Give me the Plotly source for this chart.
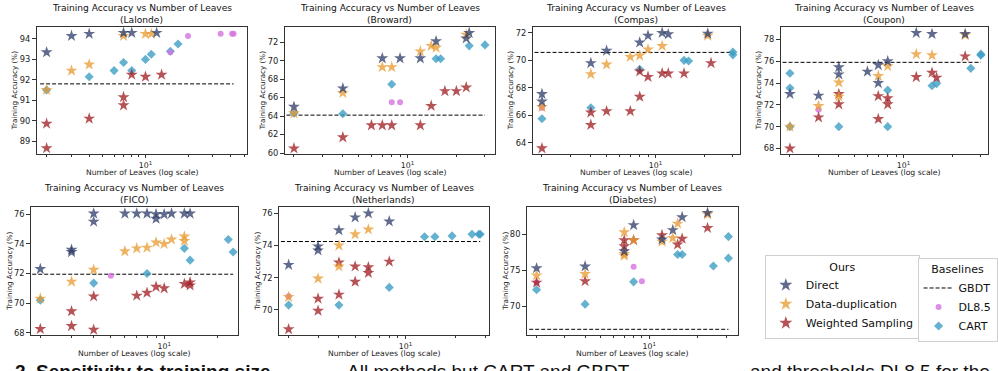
import plotly.graph_objects as go

# ---------------- data (leaves, training accuracy %) ----------------
DATASETS = ["Lalonde", "Broward", "Compas", "Coupon", "FICO", "Netherlands", "Diabetes"]
Y_TICKS = [[89, 90, 91, 92, 93, 94], [60, 62, 64, 66, 68, 70, 72], [64, 66, 68, 70, 72],
           [68, 70, 72, 74, 76, 78], [68, 70, 72, 74, 76], [70, 72, 74, 76], [70, 75, 80]]
X_TICK_VALS = [10]
X_TICK_TEXT = ["10<sup>1</sup>"]
X_MINOR_VALS = [2, 3, 4, 5, 6, 7, 8, 9, 20, 30, 40, 50]
CAPTION_PARTS = ["<b>2. Sensitivity to training size.</b>", "All methods but CART and GBDT",
                 "and thresholds DL8.5 for the"]

lalonde_direct_leaves = [2, 3, 4, 7, 8, 12]
lalonde_direct_acc = [93.35, 94.15, 94.25, 94.3, 94.3, 94.3]
lalonde_dup_leaves = [2, 3, 4, 7, 10, 11]
lalonde_dup_acc = [91.5, 92.45, 92.75, 94.15, 94.25, 94.25]
lalonde_ws_leaves = [2, 2, 4, 7, 7, 8, 10, 13]
lalonde_ws_acc = [89.85, 88.65, 90.1, 91.15, 90.75, 92.25, 92.15, 92.25]
lalonde_cart_leaves = [2, 4, 6, 7, 8, 10, 11, 15, 17]
lalonde_cart_acc = [91.5, 92.15, 92.45, 92.85, 92.45, 93.0, 93.25, 93.4, 93.75]
lalonde_dl85_leaves = [15, 20, 34, 41, 42]
lalonde_dl85_acc = [93.35, 94.15, 94.25, 94.25, 94.25]
lalonde_gbdt = 91.8

broward_direct_leaves = [2, 4, 7, 9, 12, 15, 23, 24]
broward_direct_acc = [65.0, 67.0, 70.25, 70.25, 70.25, 72.1, 72.4, 73.0]
broward_dup_leaves = [2, 4, 7, 8, 12, 14, 15, 23]
broward_dup_acc = [64.3, 66.5, 69.3, 69.3, 71.0, 71.6, 71.4, 72.8]
broward_ws_leaves = [2, 4, 6, 7, 8, 12, 14, 17, 20, 23]
broward_ws_acc = [60.5, 61.7, 63.0, 63.0, 63.0, 63.0, 65.1, 66.7, 66.7, 67.1]
broward_cart_leaves = [2, 4, 8, 15, 16, 24, 30]
broward_cart_acc = [64.3, 64.25, 67.45, 70.2, 70.2, 71.6, 71.7]
broward_dl85_leaves = [8, 9]
broward_dl85_acc = [65.5, 65.5]
broward_gbdt = 64.1

compas_direct_leaves = [2, 2, 4, 5, 8, 9, 11, 12, 21]
compas_direct_acc = [67.55, 67.0, 69.8, 70.7, 71.3, 71.8, 72.0, 71.9, 71.95]
compas_dup_leaves = [2, 4, 5, 7, 8, 9, 11, 21]
compas_dup_acc = [66.6, 69.0, 69.7, 70.25, 70.35, 70.8, 71.05, 71.8]
compas_ws_leaves = [2, 4, 4, 5, 7, 8, 8, 9, 11, 12, 15, 22]
compas_ws_acc = [63.6, 66.2, 65.3, 66.3, 66.3, 67.35, 69.2, 68.8, 69.05, 69.05, 69.05, 69.8]
compas_cart_leaves = [2, 4, 8, 15, 16, 30, 30]
compas_cart_acc = [65.75, 66.55, 69.35, 70.0, 69.95, 70.6, 70.4]
compas_dl85_leaves = [2]
compas_dl85_acc = [66.55]
compas_gbdt = 70.58

coupon_direct_leaves = [2, 3, 4, 4, 6, 7, 7, 8, 12, 15, 24]
coupon_direct_acc = [73.0, 72.85, 75.45, 74.8, 75.05, 75.65, 74.0, 76.0, 78.6, 78.5, 78.5]
coupon_dup_leaves = [2, 3, 4, 4, 7, 8, 12, 15, 24]
coupon_dup_acc = [70.0, 71.9, 74.05, 72.75, 74.65, 75.55, 76.65, 76.55, 78.4]
coupon_ws_leaves = [2, 3, 4, 4, 7, 7, 8, 8, 12, 15, 16, 24]
coupon_ws_acc = [68.0, 70.85, 73.0, 72.05, 72.8, 70.7, 72.6, 72.05, 74.55, 74.95, 74.5, 76.45]
coupon_cart_leaves = [2, 2, 2, 4, 8, 8, 15, 16, 26, 30, 30]
coupon_cart_acc = [74.9, 73.55, 70.0, 70.0, 73.35, 70.0, 73.75, 73.95, 75.35, 76.65, 76.55]
coupon_dl85_leaves = [3]
coupon_dl85_acc = [71.55]
coupon_gbdt = 75.9

fico_direct_leaves = [2, 3, 3, 4, 4, 6, 7, 8, 9, 9, 10, 11, 13, 14]
fico_direct_acc = [72.3, 73.6, 73.45, 76.05, 75.5, 76.05, 76.05, 76.05, 76.0, 75.7, 76.0, 76.05, 76.05, 76.05]
fico_dup_leaves = [2, 3, 4, 6, 7, 8, 9, 10, 11, 13, 13]
fico_dup_acc = [70.3, 71.45, 72.25, 73.5, 73.7, 73.75, 74.1, 74.0, 74.3, 74.5, 74.2]
fico_ws_leaves = [2, 3, 3, 4, 4, 7, 8, 9, 10, 13, 14, 14]
fico_ws_acc = [68.25, 69.45, 68.45, 70.45, 68.2, 70.5, 70.7, 71.1, 71.0, 71.3, 71.4, 71.2]
fico_cart_leaves = [2, 4, 8, 13, 14, 23, 24.5]
fico_cart_acc = [70.2, 71.35, 72.0, 73.7, 72.9, 74.3, 73.45]
fico_dl85_leaves = [5]
fico_dl85_acc = [71.85]
fico_gbdt = 71.95

neth_direct_leaves = [2, 3, 3, 4, 5, 6, 8]
neth_direct_acc = [72.8, 73.95, 73.7, 74.95, 75.75, 76.0, 75.5]
neth_dup_leaves = [2, 3, 4, 4, 5, 6]
neth_dup_acc = [70.8, 71.95, 74.0, 72.7, 74.7, 75.0]
neth_ws_leaves = [2, 3, 3, 4, 4, 5, 5, 6, 6, 8]
neth_ws_acc = [68.8, 70.7, 69.95, 72.95, 70.95, 72.7, 71.75, 72.65, 72.3, 73.0]
neth_cart_leaves = [2, 4, 8, 13, 15, 19, 25, 27.5, 28]
neth_cart_acc = [70.3, 70.3, 71.4, 74.55, 74.55, 74.6, 74.7, 74.7, 74.7]
neth_dl85_leaves = [2]
neth_dl85_acc = [70.85]
neth_gbdt = 74.25

diab_direct_leaves = [2, 4, 7, 8, 12, 14, 16, 23]
diab_direct_acc = [75.3, 75.55, 77.65, 81.3, 79.3, 80.6, 82.4, 83.0]
diab_dup_leaves = [2, 4, 7, 7, 7, 8, 12, 14, 15, 23]
diab_dup_acc = [74.3, 74.5, 80.3, 77.3, 77.05, 79.2, 79.0, 79.5, 81.5, 82.8]
diab_ws_leaves = [2, 4, 7, 7, 8, 12, 15, 16, 23]
diab_ws_acc = [73.3, 73.5, 79.2, 78.35, 79.2, 79.9, 78.6, 79.4, 80.9]
diab_cart_leaves = [2, 4, 8, 15, 16, 25, 31, 31]
diab_cart_acc = [72.3, 70.3, 73.4, 77.2, 77.2, 75.6, 79.7, 76.7]
diab_dl85_leaves = [2, 8, 9]
diab_dl85_acc = [73.3, 75.5, 73.5]
diab_gbdt = 66.8

PANELS = [
    (lalonde_direct_leaves, lalonde_direct_acc, lalonde_dup_leaves, lalonde_dup_acc, lalonde_ws_leaves, lalonde_ws_acc,
     lalonde_cart_leaves, lalonde_cart_acc, lalonde_dl85_leaves, lalonde_dl85_acc, lalonde_gbdt),
    (broward_direct_leaves, broward_direct_acc, broward_dup_leaves, broward_dup_acc, broward_ws_leaves, broward_ws_acc,
     broward_cart_leaves, broward_cart_acc, broward_dl85_leaves, broward_dl85_acc, broward_gbdt),
    (compas_direct_leaves, compas_direct_acc, compas_dup_leaves, compas_dup_acc, compas_ws_leaves, compas_ws_acc,
     compas_cart_leaves, compas_cart_acc, compas_dl85_leaves, compas_dl85_acc, compas_gbdt),
    (coupon_direct_leaves, coupon_direct_acc, coupon_dup_leaves, coupon_dup_acc, coupon_ws_leaves, coupon_ws_acc,
     coupon_cart_leaves, coupon_cart_acc, coupon_dl85_leaves, coupon_dl85_acc, coupon_gbdt),
    (fico_direct_leaves, fico_direct_acc, fico_dup_leaves, fico_dup_acc, fico_ws_leaves, fico_ws_acc,
     fico_cart_leaves, fico_cart_acc, fico_dl85_leaves, fico_dl85_acc, fico_gbdt),
    (neth_direct_leaves, neth_direct_acc, neth_dup_leaves, neth_dup_acc, neth_ws_leaves, neth_ws_acc,
     neth_cart_leaves, neth_cart_acc, neth_dl85_leaves, neth_dl85_acc, neth_gbdt),
    (diab_direct_leaves, diab_direct_acc, diab_dup_leaves, diab_dup_acc, diab_ws_leaves, diab_ws_acc,
     diab_cart_leaves, diab_cart_acc, diab_dl85_leaves, diab_dl85_acc, diab_gbdt),
]

# ---------------- layout geometry (pixels) ----------------
W, H = 998, 371
X_PIX = [(37, 249), (287, 499), (537, 746), (787, 996), (31, 240), (281, 493), (531, 744)]
Y_PIX = [(27, 156)] * 4 + [(209, 339)] * 3
X_RANGES = [(0.231, 1.718), (0.244, 1.539), (0.244, 1.521), (0.244, 1.521),
            (0.247, 1.417), (0.242, 1.5), (0.24, 1.551)]
Y_RANGES = [(88.35, 94.6), (59.86, 73.67), (63.16, 72.45), (67.46, 79.17),
            (67.82, 76.51), (68.42, 76.41), (65.96, 83.85)]

C_DIRECT = "#2b3a67"
C_DUP = "#e8992e"
C_WS = "#9e1a1f"
C_CART = "#3e9dc4"
C_DL = "#d673de"
FONT = "DejaVu Sans"
DASH = "4px,2px"

fig = go.Figure()
annotations = []
layout = {}

for i, p in enumerate(PANELS):
    (dl, da, ul, ua, wl, wa, cl, ca, pl, pa, gb) = p
    n = "" if i == 0 else str(i + 1)
    xa, ya = "x" + n, "y" + n
    all_leaves = dl + ul + wl + cl + pl
    fig.add_trace(go.Scatter(x=[min(all_leaves) * 0.9, max(all_leaves)], y=[gb, gb], mode="lines",
                             line=dict(color="black", width=1, dash=DASH),
                             xaxis=xa, yaxis=ya, showlegend=False, hoverinfo="skip"))
    fig.add_trace(go.Scatter(x=cl, y=ca, mode="markers", xaxis=xa, yaxis=ya, showlegend=False,
                             marker=dict(symbol="diamond", size=7, color=C_CART, opacity=0.8, line=dict(width=0))))
    fig.add_trace(go.Scatter(x=pl, y=pa, mode="markers", xaxis=xa, yaxis=ya, showlegend=False,
                             marker=dict(symbol="circle", size=6, color=C_DL, opacity=0.8, line=dict(width=0))))
    for lx, ly, col in [(wl, wa, C_WS), (ul, ua, C_DUP), (dl, da, C_DIRECT)]:
        fig.add_trace(go.Scatter(x=lx, y=ly, mode="markers", xaxis=xa, yaxis=ya, showlegend=False,
                                 marker=dict(symbol="star", size=9, color=col, opacity=0.75, line=dict(width=0))))

    x0, x1 = X_PIX[i]
    yt, yb = Y_PIX[i]
    layout["xaxis" + n] = dict(
        type="log", domain=[x0 / W, x1 / W], range=list(X_RANGES[i]), anchor=ya,
        showline=True, mirror=True, linecolor="#333333", linewidth=1.3, showgrid=False, zeroline=False,
        tickvals=X_TICK_VALS, ticktext=X_TICK_TEXT, ticks="outside", ticklen=3, tickwidth=1,
        tickcolor="#333333", tickfont=dict(family=FONT, size=7.8, color="#222222"),
        minor=dict(tickvals=X_MINOR_VALS, ticks="outside", ticklen=2, tickwidth=0.8, tickcolor="#333333"),
    )
    layout["yaxis" + n] = dict(
        domain=[1 - yb / H, 1 - yt / H], range=list(Y_RANGES[i]), anchor=xa,
        showline=True, mirror=True, linecolor="#333333", linewidth=1.3, showgrid=False, zeroline=False,
        tickvals=Y_TICKS[i], ticks="outside", ticklen=3.5, tickwidth=1, tickcolor="#333333",
        tickfont=dict(family=FONT, size=8.3, color="#222222"),
    )
    cx = (x0 + x1) / 2 / W
    annotations.append(dict(text="Training Accuracy vs Number of Leaves", x=cx, y=1 - (yt - 18.5) / H,
                            xref="paper", yref="paper", showarrow=False, xanchor="center", yanchor="middle",
                            font=dict(family=FONT, size=9.1, color="#111111")))
    annotations.append(dict(text="(" + DATASETS[i] + ")", x=cx, y=1 - (yt - 7) / H,
                            xref="paper", yref="paper", showarrow=False, xanchor="center", yanchor="middle",
                            font=dict(family=FONT, size=9.1, color="#111111")))
    annotations.append(dict(text="Number of Leaves (log scale)", x=0.5, y=0, xref=xa + " domain",
                            yref=ya + " domain", yshift=-18, showarrow=False, xanchor="center",
                            yanchor="middle", font=dict(family=FONT, size=7.7, color="#222222")))
    annotations.append(dict(text="Training Accuracy (%)", x=0, y=0.5, xref=xa + " domain",
                            yref=ya + " domain", xshift=-22, textangle=-90, showarrow=False,
                            xanchor="center", yanchor="middle", font=dict(family=FONT, size=7.2, color="#222222")))

# clipped caption line of the surrounding page (only the top of the glyphs is visible)
for txt, xp, anc in [(CAPTION_PARTS[0], 13, "left"), (CAPTION_PARTS[1], 348, "left"),
                     (CAPTION_PARTS[2], 1000, "right")]:
    annotations.append(dict(text=txt, x=xp / W, y=1 - 363 / H, xref="paper", yref="paper",
                            showarrow=False, xanchor=anc, yanchor="top",
                            font=dict(family="Liberation Sans", size=19, color="#111111")))

# legend entries
for name, col in [("Direct", C_DIRECT), ("Data-duplication", C_DUP), ("Weighted Sampling", C_WS)]:
    fig.add_trace(go.Scatter(x=[None], y=[None], mode="markers", name=name, legend="legend",
                             marker=dict(symbol="star", size=10, color=col, opacity=0.75, line=dict(width=0))))
fig.add_trace(go.Scatter(x=[None], y=[None], mode="lines", name="GBDT", legend="legend2",
                         line=dict(color="black", width=1, dash=DASH)))
fig.add_trace(go.Scatter(x=[None], y=[None], mode="markers", name="DL8.5", legend="legend2",
                         marker=dict(symbol="circle", size=6, color=C_DL, opacity=0.8)))
fig.add_trace(go.Scatter(x=[None], y=[None], mode="markers", name="CART", legend="legend2",
                         marker=dict(symbol="diamond", size=7, color=C_CART, opacity=0.8)))

fig.update_layout(
    width=W, height=H, margin=dict(l=0, r=0, t=0, b=0),
    paper_bgcolor="white", plot_bgcolor="white",
    font=dict(family=FONT, color="#222222"),
    annotations=annotations,
    legend=dict(title=dict(text="Ours", side="top center", font=dict(family=FONT, size=11)),
                x=771 / W, y=1 - 258 / H, xanchor="left", yanchor="top",
                bordercolor="#d0d0d0", borderwidth=1, bgcolor="white",
                font=dict(family=FONT, size=11, color="#111111"), itemsizing="trace", tracegroupgap=0),
    legend2=dict(title=dict(text="Baselines", side="top center", font=dict(family=FONT, size=11)),
                 x=925 / W, y=1 - 261 / H, xanchor="left", yanchor="top",
                 bordercolor="#d0d0d0", borderwidth=1, bgcolor="white",
                 font=dict(family=FONT, size=11, color="#111111"), itemsizing="trace", itemwidth=30),
    **layout,
)

fig.write_html("out.html", config={"displayModeBar": False},
               post_script="document.body.style.margin='0';")
